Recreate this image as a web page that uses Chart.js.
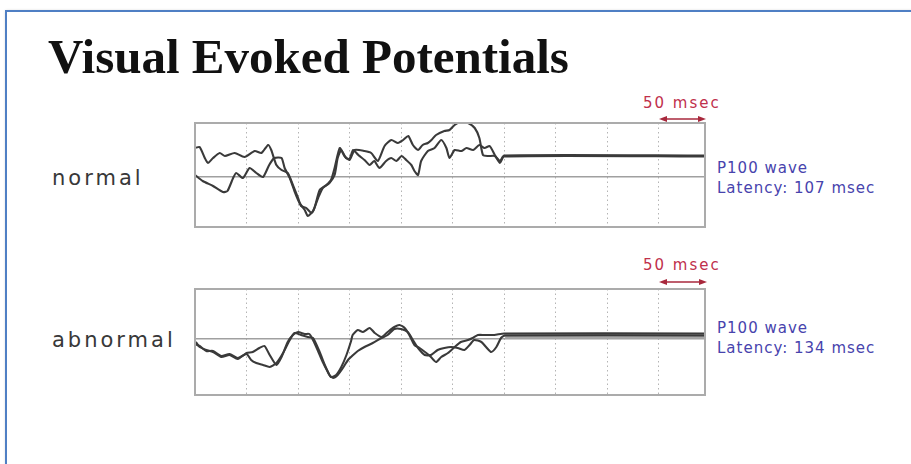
<!DOCTYPE html>
<html>
<head>
<meta charset="utf-8">
<script src="https://cdn.jsdelivr.net/npm/chart.js@4"></script>
<style>
  html, body { margin:0; padding:0; background:#fff; overflow:hidden; }
  body { width:911px; height:464px; position:relative; overflow:hidden; }
  .frame { position:absolute; left:5px; top:10px; width:1000px; height:1000px;
           border:2px solid #4f7fc4; box-shadow:1px 1px 3px rgba(0,0,0,0.25); }
  .title { position:absolute; left:48px; top:33px; font-family:"Liberation Serif","Times New Roman",serif;
           font-weight:bold; font-size:49px; line-height:48px; color:#111; white-space:nowrap; }
  .side { position:absolute; left:52px; font-family:"DejaVu Sans",sans-serif; font-size:21px; line-height:21px;
          letter-spacing:3px; color:#383838; white-space:nowrap; }
  .info { position:absolute; left:717px; font-family:"DejaVu Sans",sans-serif; font-size:15px; line-height:20px;
          letter-spacing:1px; color:#4743ad; white-space:nowrap; }
  .scale { position:absolute; left:643px; font-family:"DejaVu Sans",sans-serif; font-size:15px; line-height:15px;
           letter-spacing:2px; color:#c0304c; white-space:nowrap; }
  .box { position:absolute; border:2px solid #ababab; box-sizing:border-box; pointer-events:none; }
  canvas { position:absolute; }
  svg { position:absolute; left:0; top:0; }
</style>
</head>
<body>
<div class="frame"></div>
<div class="title">Visual Evoked Potentials</div>

<div class="side" style="top:168px">normal</div>
<div class="side" style="top:330px">abnormal</div>

<div class="info" style="top:158px">P100 wave<br>Latency: 107 msec</div>
<div class="info" style="top:318px">P100 wave<br>Latency: 134 msec</div>

<div class="scale" style="top:96px">50 msec</div>
<div class="scale" style="top:258px">50 msec</div>

<svg width="911" height="464">
  <g stroke="#a8283c" fill="#a8283c" stroke-width="1.5">
    <line x1="664" y1="119" x2="701" y2="119"/>
    <polygon points="659,119 667,116 667,122" stroke="none"/>
    <polygon points="706,119 698,116 698,122" stroke="none"/>
    <line x1="664" y1="282" x2="702" y2="282"/>
    <polygon points="659,282 667,279 667,285" stroke="none"/>
    <polygon points="707,282 699,279 699,285" stroke="none"/>
  </g>
</svg>

<canvas id="cNormal" width="510" height="104" style="left:195px;top:123px"></canvas>
<div class="box" style="left:194px;top:122px;width:512px;height:106px"></div>

<canvas id="cAbnormal" width="510" height="106" style="left:195px;top:289px"></canvas>
<div class="box" style="left:194px;top:288px;width:512px;height:108px"></div>

<script>
// ---- Data: [time in msec, amplitude (arbitrary units, up = positive)] ----
const sweepMs = [0, 495];          // sweep length shown on the x axis
const gridStepMs = 50;              // one division = 50 msec

const normalTrace1 = [
  [0, 2.9], [4.5, 3.0], [9.5, 1.9], [12.5, 1.4], [17.5, 1.9], [24, 2.4], [29, 2.1], [38.5, 2.4],
  [48, 2.0], [58, 2.6], [64.5, 2.4], [71, 3.2], [74, 2.7], [79, 1.2], [84, 0.7], [90, 0.4],
  [95, -0.8], [100, -2.1], [103, -2.9], [108, -3.1], [113, -3.6], [116, -3.1], [121, -1.3],
  [127.5, -0.8], [132, -0.3], [135.5, 0.9], [140.5, 2.9], [145, 2.1], [150, 1.7], [155, 2.7],
  [164.5, 2.6], [171, 2.4], [177.5, 1.6], [184, 3.1], [190.5, 3.7], [197, 3.4], [202, 3.7],
  [207, 4.1], [211.5, 3.2], [216.5, 2.7], [221, 3.2], [226, 3.4], [229.5, 3.7], [234, 4.2],
  [242, 4.6], [247, 4.7], [252, 5.2], [258, 5.5], [265, 5.4], [271.5, 4.9], [276, 3.9],
  [279.5, 2.2], [284.5, 2.1], [291, 2.1], [296, 1.6], [300, 2.15], [495, 2.15]
];
const normalTrace2 = [
  [0, 0.2], [7.5, -0.4], [17.5, -0.9], [27, -1.5], [31.5, -1.4], [37, -0.1], [40, 0.4],
  [46.5, -0.1], [53, 0.9], [59.5, 0.4], [66, 0.0], [72, 1.2], [77, 1.9], [84, 1.9], [87, 0.9],
  [92, -0.1], [96.5, -1.4], [101.5, -2.6], [106.5, -3.3], [109.5, -3.9], [114.5, -3.4],
  [119.5, -2.1], [124, -1.1], [130.5, -0.6], [135.5, 0.2], [138.5, 1.9], [142, 2.7], [146.5, 1.9],
  [150, 1.8], [153.5, 2.7], [158.5, 2.2], [164.5, 1.7], [169.5, 1.2], [174, 1.6], [179, 0.9],
  [185.5, 1.6], [190.5, 1.9], [195.5, 1.6], [200.5, 2.1], [205, 1.7], [210, 1.2], [213, 0.6],
  [216.5, 0.2], [219.5, 1.6], [226, 2.6], [232.5, 2.9], [239, 3.7], [244, 2.9], [247, 1.9],
  [252, 2.7], [258.5, 2.6], [263.5, 2.9], [270, 2.7], [276, 3.2], [281, 2.9], [286, 3.1],
  [291, 2.2], [296, 1.4], [300, 2.05], [495, 2.05]
];
const abnormalTrace1 = [
  [0, -0.3], [1.5, -0.4], [4.5, -0.8], [11, -1.1], [17.5, -1.3], [25.5, -1.8], [33.5, -1.6],
  [41.5, -2.0], [50, -1.4], [56, -1.3], [62.5, -0.9], [67.5, -0.7], [72.5, -1.6], [79, -2.6],
  [84, -1.8], [90, -0.3], [95, 0.4], [100, 0.7], [106.5, 0.5], [111, 0.5], [114.5, -0.1],
  [119, -1.1], [124, -2.3], [129, -3.3], [132, -3.8], [137, -3.6], [142, -2.8], [147, -1.6],
  [151.5, -0.2], [153, 0.4], [158, 0.9], [163, 0.7], [169.5, 1.1], [174.5, 0.6], [181, 0.2],
  [187, 0.7], [193.5, 1.2], [198.5, 1.4], [203.5, 1.1], [208, 0.4], [213, -0.6], [218, -0.9],
  [224.5, -1.4], [229, -1.8], [234, -2.3], [239, -1.8], [245.5, -1.4], [252, -0.8], [258, -0.3],
  [265, -0.1], [269.5, 0.1], [274.5, 0.4], [281, 0.4], [290.5, 0.4], [300, 0.55], [495, 0.55]
];
const abnormalTrace2 = [
  [0, -0.5], [4.5, -0.7], [11, -1.2], [17.5, -1.2], [25.5, -1.7], [33.5, -1.5], [41.5, -1.9],
  [50, -1.5], [54.5, -2.1], [59.5, -2.4], [66, -2.6], [72.5, -2.8], [79, -2.4], [85.5, -1.4],
  [92, -0.1], [96.5, 0.6], [103, 0.4], [109.5, 0.2], [114.5, 0.1], [121, -1.3], [126, -2.6],
  [130.5, -3.6], [134, -3.9], [138.5, -3.6], [143.5, -2.9], [148.5, -2.1], [153.5, -1.6],
  [158, -1.2], [164.5, -0.8], [172.5, -0.4], [181, 0.1], [187, 0.4], [193.5, 1.0], [200, 1.0],
  [206.5, 0.7], [211.5, -0.1], [216.5, -0.9], [223, -1.6], [229, -1.6], [235.5, -1.1],
  [242, -0.9], [248.5, -0.8], [255, -0.9], [261.5, -1.1], [266.5, -0.6], [271, -0.1],
  [278, -0.3], [282.5, -0.8], [287.5, -1.3], [292.5, -0.8], [297, 0.1], [301, 0.35], [495, 0.35]
];
const abnormalBand = [[301, 0.3], [495, 0.3]];

const normalRange = [-5, 5.4];
const abnormalRange = [-5.6, 5];

// ---- Rendering ----
const toXY = arr => arr.map(([x, y]) => ({ x, y }));
const traceColor = '#3a3a3a';

function traceDataset(arr) {
  return { data: toXY(arr), borderColor: traceColor, borderWidth: 2.1, pointRadius: 0,
           tension: 0.2, borderJoinStyle: 'round', borderCapStyle: 'round', fill: false };
}

function makeChart(id, traces, range, extra) {
  const datasets = traces.map(traceDataset);
  if (extra) datasets.push(extra);
  return new Chart(document.getElementById(id), {
    type: 'line',
    data: { datasets },
    options: {
      responsive: false,
      animation: false,
      events: [],
      layout: { padding: 0, autoPadding: false },
      plugins: { legend: { display: false }, tooltip: { enabled: false } },
      scales: {
        x: {
          type: 'linear', min: sweepMs[0], max: sweepMs[1],
          ticks: { display: false, stepSize: gridStepMs },
          grid: {
            drawTicks: false, lineWidth: 1,
            color: c => (c.tick && c.tick.value > 0 && c.tick.value % gridStepMs === 0) ? '#b4b4b4' : 'rgba(0,0,0,0)'
          },
          border: { display: false, dash: [1.5, 3] }
        },
        y: {
          type: 'linear', min: range[0], max: range[1],
          ticks: { display: false, stepSize: 1 },
          grid: {
            drawTicks: false, lineWidth: 1.5,
            color: c => (c.tick && c.tick.value === 0) ? '#a0a0a0' : 'rgba(0,0,0,0)'
          },
          border: { display: false }
        }
      }
    }
  });
}

makeChart('cNormal', [normalTrace1, normalTrace2], normalRange);
makeChart('cAbnormal', [abnormalTrace1, abnormalTrace2], abnormalRange,
  { data: toXY(abnormalBand), borderColor: '#a6a6a6', borderWidth: 5, pointRadius: 0, fill: false });
</script>
</body>
</html>
